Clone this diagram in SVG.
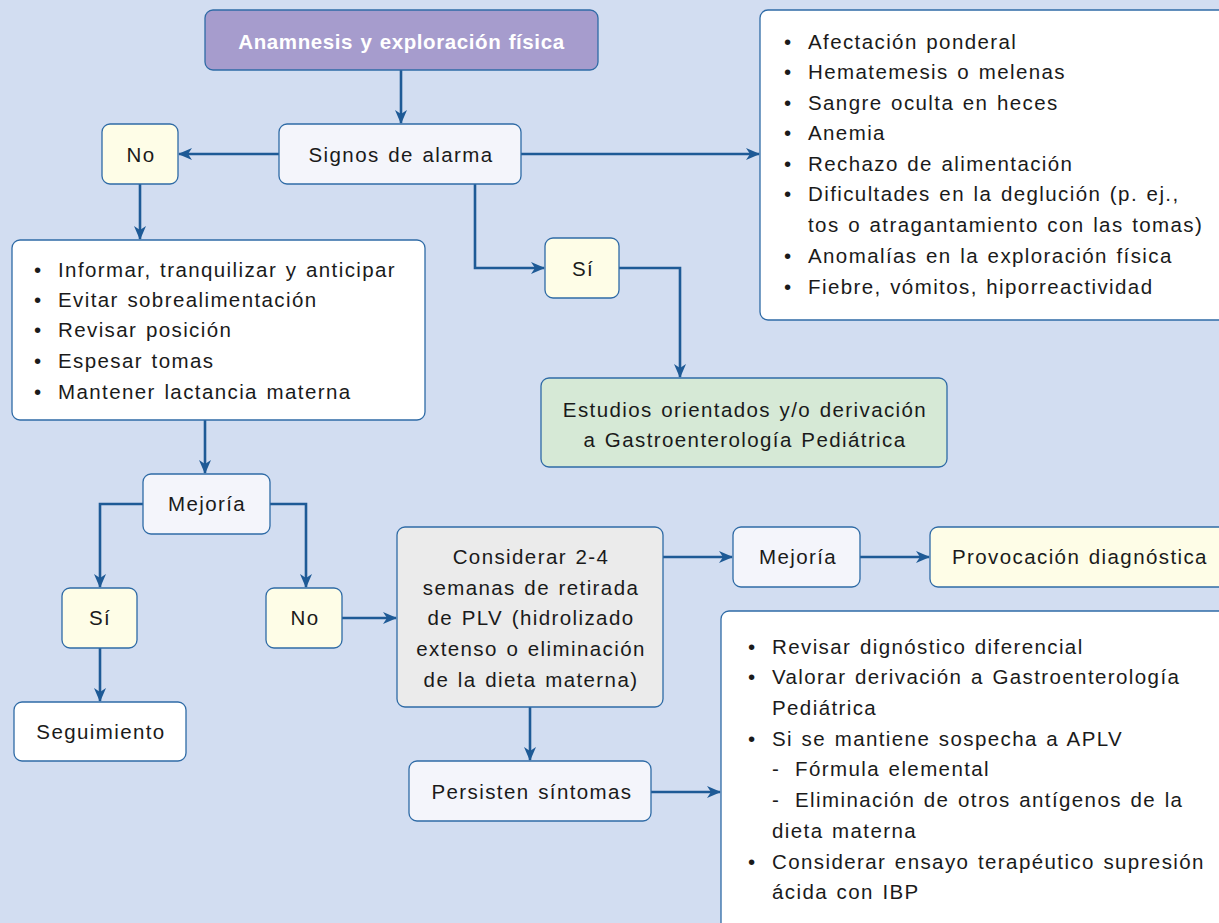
<svg xmlns="http://www.w3.org/2000/svg" width="1219" height="923" viewBox="0 0 1219 923">
<style>
.bx{stroke:#2F6BA6;stroke-width:1.3}
.w{fill:#FFFFFF}
.l{fill:#F4F5FB}
.y{fill:#FEFDE7}
.g{fill:#D6E9D6}
.gr{fill:#EBEBEB}
.p{fill:#A69CCD}
text{font-family:"Liberation Sans",Arial,sans-serif;font-size:20.5px;fill:#1A1A1A;letter-spacing:1.4px;word-spacing:1.5px}
.c{text-anchor:middle}
.h{font-weight:bold;fill:#FFFFFF;letter-spacing:0.6px;word-spacing:1px}
.cn path{fill:none;stroke:#1E5A96;stroke-width:2.6;marker-end:url(#ah)}
</style>
<defs>
<marker id="ah" viewBox="0 0 14 12" refX="13" refY="6" markerWidth="14" markerHeight="12" markerUnits="userSpaceOnUse" orient="auto">
<path d="M0,0 L14,6 L0,12 L4,6 z" fill="#1E5A96"/>
</marker>
</defs>
<rect width="1219" height="923" fill="#D2DDF1"/>

<g class="cn" id="connectors">
<path d="M401,70 V123"/>
<path d="M279,154 H179"/>
<path d="M521,154 H759"/>
<path d="M140,184 V239"/>
<path d="M475,184 V268 H544"/>
<path d="M619,268 H680 V377"/>
<path d="M205,420 V473"/>
<path d="M143,504 H100 V587"/>
<path d="M270,504 H306 V587"/>
<path d="M100,648 V701"/>
<path d="M342,618 H396"/>
<path d="M663,557 H732"/>
<path d="M860,557 H929"/>
<path d="M530,707 V760"/>
<path d="M651,792 H720"/>
</g>

<g id="anamnesis">
<rect class="bx p" x="205" y="10" width="393" height="60" rx="8"/>
<text class="c h" x="401.5" y="49">Anamnesis y exploración física</text>
</g>

<g id="signos">
<rect class="bx l" x="279" y="124" width="242" height="60" rx="8"/>
<text class="c" x="401" y="162">Signos de alarma</text>
</g>

<g id="no1">
<rect class="bx y" x="102" y="124" width="76" height="60" rx="8"/>
<text class="c" x="141" y="162">No</text>
</g>

<g id="alarma-lista">
<rect class="bx w" x="760" y="10" width="470" height="310" rx="8"/>
<text x="784" y="49">•</text><text x="808" y="49">Afectación ponderal</text>
<text x="784" y="79">•</text><text x="808" y="79">Hematemesis o melenas</text>
<text x="784" y="110">•</text><text x="808" y="110">Sangre oculta en heces</text>
<text x="784" y="140">•</text><text x="808" y="140">Anemia</text>
<text x="784" y="171">•</text><text x="808" y="171">Rechazo de alimentación</text>
<text x="784" y="201">•</text><text x="808" y="201">Dificultades en la deglución (p. ej.,</text>
<text x="808" y="232">tos o atragantamiento con las tomas)</text>
<text x="784" y="263">•</text><text x="808" y="263">Anomalías en la exploración física</text>
<text x="784" y="294">•</text><text x="808" y="294">Fiebre, vómitos, hiporreactividad</text>
</g>

<g id="medidas">
<rect class="bx w" x="12" y="240" width="413" height="180" rx="8"/>
<text x="34" y="277">•</text><text x="58" y="277">Informar, tranquilizar y anticipar</text>
<text x="34" y="307">•</text><text x="58" y="307">Evitar sobrealimentación</text>
<text x="34" y="337">•</text><text x="58" y="337">Revisar posición</text>
<text x="34" y="368">•</text><text x="58" y="368">Espesar tomas</text>
<text x="34" y="399">•</text><text x="58" y="399">Mantener lactancia materna</text>
</g>

<g id="si1">
<rect class="bx y" x="545" y="238" width="74" height="60" rx="8"/>
<text class="c" x="583" y="276">Sí</text>
</g>

<g id="estudios">
<rect class="bx g" x="541" y="378" width="406" height="89" rx="8"/>
<text class="c" x="745" y="417">Estudios orientados y/o derivación</text>
<text class="c" x="745" y="447">a Gastroenterología Pediátrica</text>
</g>

<g id="mejoria1">
<rect class="bx l" x="143" y="474" width="127" height="60" rx="8"/>
<text class="c" x="207" y="511">Mejoría</text>
</g>

<g id="si2">
<rect class="bx y" x="62" y="588" width="75" height="60" rx="8"/>
<text class="c" x="100" y="625">Sí</text>
</g>

<g id="no2">
<rect class="bx y" x="266" y="588" width="76" height="60" rx="8"/>
<text class="c" x="305" y="625">No</text>
</g>

<g id="seguimiento">
<rect class="bx w" x="14" y="702" width="172" height="59" rx="8"/>
<text class="c" x="101" y="739">Seguimiento</text>
</g>

<g id="considerar">
<rect class="bx gr" x="397" y="527" width="266" height="180" rx="8"/>
<text class="c" x="531" y="564">Considerar 2-4</text>
<text class="c" x="531" y="595">semanas de retirada</text>
<text class="c" x="531" y="625">de PLV (hidrolizado</text>
<text class="c" x="531" y="656">extenso o eliminación</text>
<text class="c" x="531" y="687">de la dieta materna)</text>
</g>

<g id="mejoria2">
<rect class="bx l" x="733" y="527" width="127" height="60" rx="8"/>
<text class="c" x="798" y="564">Mejoría</text>
</g>

<g id="provocacion">
<rect class="bx y" x="930" y="527" width="300" height="60" rx="8"/>
<text x="952" y="564">Provocación diagnóstica</text>
</g>

<g id="persisten">
<rect class="bx l" x="409" y="761" width="242" height="60" rx="8"/>
<text class="c" x="532" y="799">Persisten síntomas</text>
</g>

<g id="acciones">
<rect class="bx w" x="721" y="611" width="510" height="330" rx="8"/>
<text x="748" y="654">•</text><text x="772" y="654">Revisar dignóstico diferencial</text>
<text x="748" y="684">•</text><text x="772" y="684">Valorar derivación a Gastroenterología</text>
<text x="772" y="715">Pediátrica</text>
<text x="748" y="746">•</text><text x="772" y="746">Si se mantiene sospecha a APLV</text>
<text x="772" y="776">-</text><text x="795" y="776">Fórmula elemental</text>
<text x="772" y="807">-</text><text x="795" y="807">Eliminación de otros antígenos de la</text>
<text x="772" y="838">dieta materna</text>
<text x="748" y="869">•</text><text x="772" y="869">Considerar ensayo terapéutico supresión</text>
<text x="772" y="899">ácida con IBP</text>
</g>
</svg>
